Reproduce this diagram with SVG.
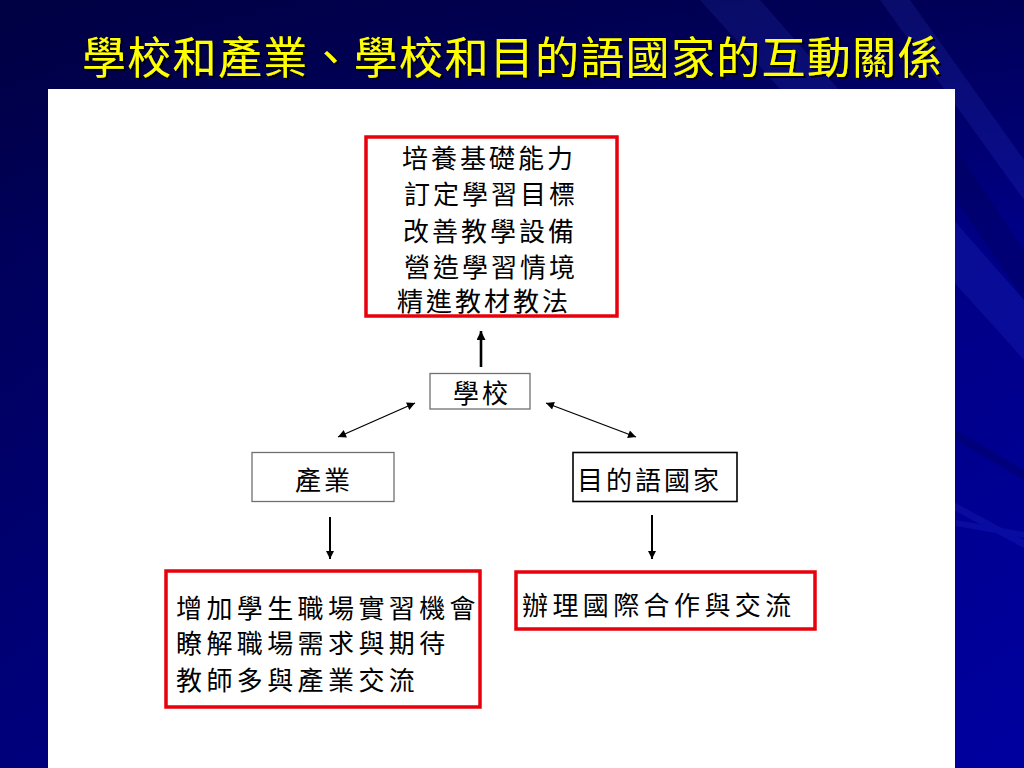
<svg xmlns="http://www.w3.org/2000/svg" width="1024" height="768" viewBox="0 0 1024 768">
  <defs>
    <linearGradient id="bg" x1="0" y1="0" x2="1" y2="1">
      <stop offset="0" stop-color="#00004a"/>
      <stop offset="0.45" stop-color="#000078"/>
      <stop offset="1" stop-color="#0000a0"/>
    </linearGradient>
    <linearGradient id="bgv" x1="0" y1="0" x2="0" y2="1">
      <stop offset="0" stop-color="#000040" stop-opacity="0.6"/>
      <stop offset="0.3" stop-color="#000040" stop-opacity="0"/>
    </linearGradient>
    <filter id="shadow" x="-5%" y="-20%" width="110%" height="140%">
      <feDropShadow dx="2" dy="2" stdDeviation="0.6" flood-color="#000000" flood-opacity="0.9"/>
    </filter>
    <marker id="ah" viewBox="0 0 10 10" refX="10" refY="5" markerWidth="9" markerHeight="8" markerUnits="userSpaceOnUse" orient="auto-start-reverse">
      <path d="M0,0 L10,5 L0,10 z" fill="#000"/>
    </marker>
    <marker id="ahb" viewBox="0 0 10 10" refX="10" refY="5" markerWidth="11" markerHeight="9" markerUnits="userSpaceOnUse" orient="auto-start-reverse">
      <path d="M0,0 L10,5 L0,10 z" fill="#000"/>
    </marker>
  </defs>
  <style>
    .t { font-family: "Noto Sans CJK TC", "Noto Sans CJK SC", sans-serif; fill: #000; }
    .s24 { font-size: 26px; letter-spacing: 3px; }
    .s25 { font-size: 26px; letter-spacing: 4.4px; }
    .red { fill: #fff; stroke: #e8000b; stroke-width: 3.5; }
    .gray { fill: #fff; stroke: #707070; stroke-width: 1.3; }
    .blk { fill: #fff; stroke: #000; stroke-width: 1.6; }
    .c { stroke: #000; fill: none; }
  </style>

  <!-- background -->
  <rect x="0" y="0" width="1024" height="768" fill="url(#bg)"/>
  <rect x="0" y="0" width="1024" height="768" fill="url(#bgv)"/>
  <g opacity="0.12" fill="#4a60ff">
    <polygon points="700,0 760,0 1024,300 1024,360"/>
    <polygon points="880,0 910,0 1024,160 1024,200"/>
    <polygon points="950,500 1024,540 1024,548 950,508"/>
    <polygon points="956,520 1024,532 1024,538 956,526"/>
  </g>
  <g opacity="0.25" fill="#000040">
    <polygon points="956,150 1024,250 1024,300 956,200"/>
    <polygon points="956,430 1024,470 1024,480 956,440"/>
  </g>

  <!-- title -->
  <text x="82" y="74" filter="url(#shadow)" style="font-family: 'Noto Sans CJK TC', 'Noto Sans CJK SC', sans-serif; font-size: 44px; letter-spacing: 1.3px; fill: #ffff00;">學校和產業、學校和目的語國家的互動關係</text>

  <!-- white panel -->
  <rect x="48" y="89" width="907" height="690" fill="#ffffff"/>

  <!-- connectors -->
  <g id="connectors">
    <line class="c" x1="481" y1="367" x2="481" y2="331" stroke-width="2.6" marker-end="url(#ahb)"/>
    <line class="c" x1="338" y1="437" x2="415" y2="403" stroke-width="1.3" marker-start="url(#ah)" marker-end="url(#ah)"/>
    <line class="c" x1="546" y1="403" x2="636" y2="437" stroke-width="1.3" marker-start="url(#ah)" marker-end="url(#ah)"/>
    <line class="c" x1="330" y1="517" x2="330" y2="559" stroke-width="2" marker-end="url(#ah)"/>
    <line class="c" x1="652" y1="515" x2="652" y2="559" stroke-width="2" marker-end="url(#ah)"/>
  </g>

  <!-- nodes -->
  <g id="node-school-goals">
    <rect class="red" x="366" y="137" width="251" height="179"/>
    <text class="t s24" x="402" y="167.5">培養基礎能力</text>
    <text class="t s24" x="404" y="204">訂定學習目標</text>
    <text class="t s24" x="403" y="241">改善教學設備</text>
    <text class="t s24" x="404" y="277">營造學習情境</text>
    <text class="t s24" x="397" y="311">精進教材教法</text>
  </g>

  <g id="node-school">
    <rect class="gray" x="430" y="373.5" width="100" height="35.5"/>
    <text class="t s24" x="482" y="402.5" text-anchor="middle">學校</text>
  </g>

  <g id="node-industry">
    <rect class="gray" x="252" y="452.5" width="142" height="49"/>
    <text class="t s24" x="324" y="490" text-anchor="middle">產業</text>
  </g>

  <g id="node-country">
    <rect class="blk" x="573" y="452.5" width="164" height="49"/>
    <text class="t s24" x="577" y="490">目的語國家</text>
  </g>

  <g id="node-industry-actions">
    <rect class="red" x="166" y="571" width="314" height="136"/>
    <text class="t s25" x="176" y="617.5">增加學生職場實習機會</text>
    <text class="t s25" x="176" y="653">瞭解職場需求與期待</text>
    <text class="t s25" x="176" y="689.5">教師多與產業交流</text>
  </g>

  <g id="node-country-actions">
    <rect class="red" x="516" y="572" width="299" height="57"/>
    <text class="t s25" x="522" y="615">辦理國際合作與交流</text>
  </g>
</svg>
